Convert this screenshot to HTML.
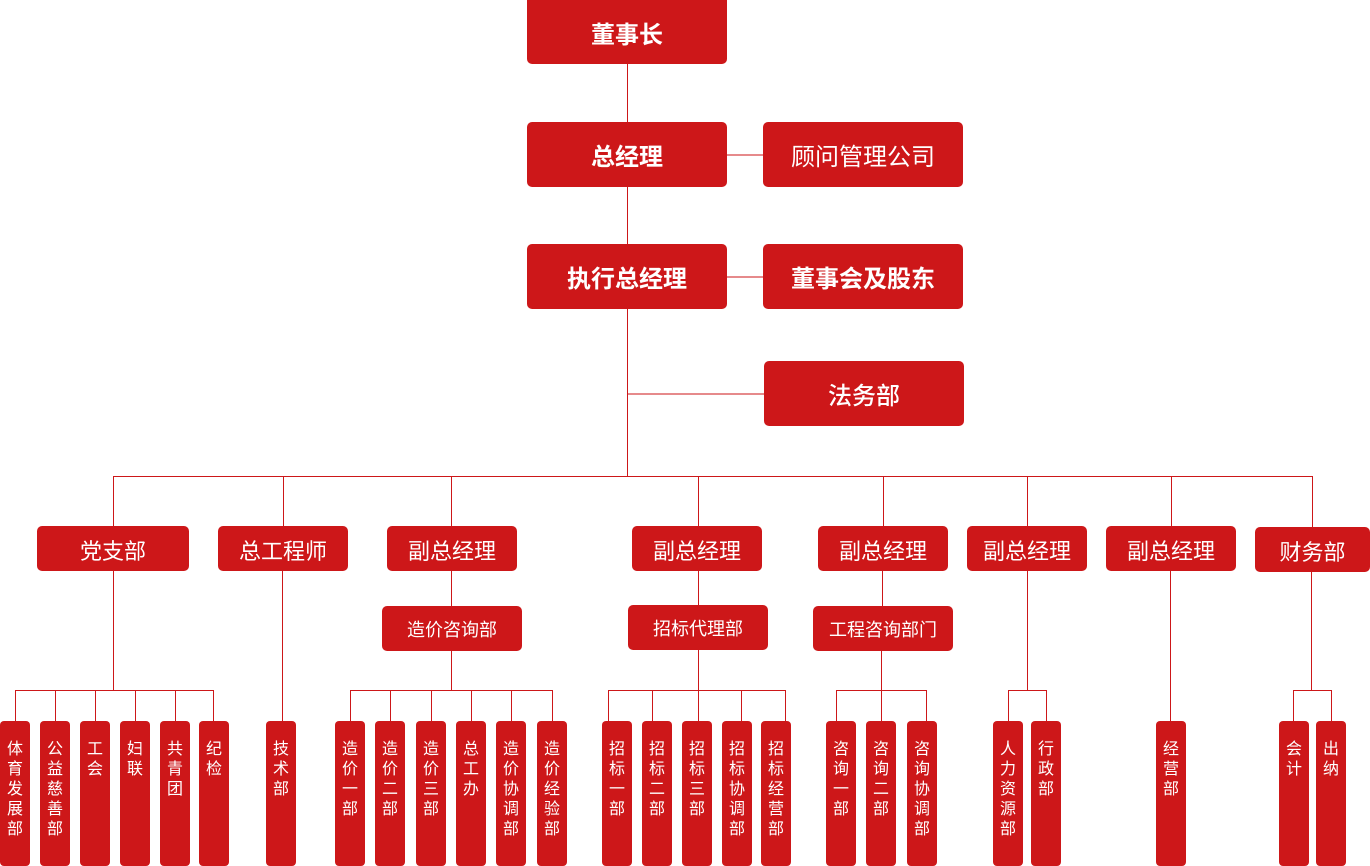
<!DOCTYPE html>
<html><head><meta charset="utf-8">
<style>
html,body{margin:0;padding:0;background:#fff;}
body{width:1370px;height:864px;position:relative;overflow:hidden;font-family:"Liberation Sans","Noto Sans CJK SC",sans-serif;}
.b{position:absolute;background:#cd1719;color:#fff;border-radius:5px;display:flex;align-items:center;justify-content:center;box-sizing:border-box;white-space:nowrap;}
.t{font-size:24px;font-weight:bold;}
.m{font-size:22px;padding-top:2px;}
.n{font-size:18px;padding-top:1px;}
.s{position:absolute;top:721px;width:30px;height:145px;background:#cd1719;border-radius:4px;color:#fff;font-size:16px;line-height:20px;text-align:center;padding-top:19px;box-sizing:border-box;}
.h{position:absolute;height:1px;background:#cd1719;}
.v{position:absolute;width:1px;background:#cd1719;}
.p{position:absolute;height:2px;background:#e68a8b;}
</style></head><body>

<!-- top boxes -->
<div class="b t" style="left:527px;top:-6px;width:200px;height:70px;padding-top:6px;">董事长</div>
<div class="b t" style="left:527px;top:122px;width:200px;height:65px;">总经理</div>
<div class="b t" style="left:763px;top:122px;width:200px;height:65px;font-weight:normal;">顾问管理公司</div>
<div class="b t" style="left:527px;top:244px;width:200px;height:65px;">执行总经理</div>
<div class="b t" style="left:763px;top:244px;width:200px;height:65px;">董事会及股东</div>
<div class="b t" style="left:764px;top:361px;width:200px;height:65px;font-weight:500;">法务部</div>

<!-- top connectors -->
<div class="v" style="left:627px;top:64px;height:58px;"></div>
<div class="v" style="left:627px;top:187px;height:57px;"></div>
<div class="v" style="left:627px;top:309px;height:167px;"></div>
<div class="p" style="left:727px;top:154px;width:36px;"></div>
<div class="p" style="left:727px;top:276px;width:36px;"></div>
<div class="p" style="left:628px;top:393px;width:136px;"></div>
<div class="h" style="left:113px;top:476px;width:1200px;"></div>

<!-- drops to level 2 -->
<div class="v" style="left:113px;top:476px;height:50px;"></div>
<div class="v" style="left:283px;top:476px;height:50px;"></div>
<div class="v" style="left:451px;top:476px;height:50px;"></div>
<div class="v" style="left:698px;top:476px;height:50px;"></div>
<div class="v" style="left:883px;top:476px;height:50px;"></div>
<div class="v" style="left:1027px;top:476px;height:50px;"></div>
<div class="v" style="left:1171px;top:476px;height:50px;"></div>
<div class="v" style="left:1312px;top:476px;height:51px;"></div>

<!-- level 2 boxes -->
<div class="b m" style="left:37px;top:526px;width:152px;height:45px;">党支部</div>
<div class="b m" style="left:218px;top:526px;width:130px;height:45px;">总工程师</div>
<div class="b m" style="left:387px;top:526px;width:130px;height:45px;">副总经理</div>
<div class="b m" style="left:632px;top:526px;width:130px;height:45px;">副总经理</div>
<div class="b m" style="left:818px;top:526px;width:130px;height:45px;">副总经理</div>
<div class="b m" style="left:967px;top:526px;width:120px;height:45px;">副总经理</div>
<div class="b m" style="left:1106px;top:526px;width:130px;height:45px;">副总经理</div>
<div class="b m" style="left:1255px;top:527px;width:115px;height:45px;">财务部</div>

<!-- level 3 boxes -->
<div class="b n" style="left:382px;top:606px;width:140px;height:45px;">造价咨询部</div>
<div class="b n" style="left:628px;top:605px;width:140px;height:45px;">招标代理部</div>
<div class="b n" style="left:813px;top:606px;width:140px;height:45px;">工程咨询部门</div>

<!-- 党支部 branch -->
<div class="v" style="left:113px;top:571px;height:119px;"></div>
<div class="h" style="left:15px;top:690px;width:199px;"></div>
<div class="v" style="left:15px;top:690px;height:31px;"></div>
<div class="v" style="left:55px;top:690px;height:31px;"></div>
<div class="v" style="left:95px;top:690px;height:31px;"></div>
<div class="v" style="left:135px;top:690px;height:31px;"></div>
<div class="v" style="left:175px;top:690px;height:31px;"></div>
<div class="v" style="left:213px;top:690px;height:31px;"></div>

<!-- 总工程师 -->
<div class="v" style="left:282px;top:571px;height:150px;"></div>

<!-- 副总1 -->
<div class="v" style="left:451px;top:571px;height:35px;"></div>
<div class="v" style="left:451px;top:651px;height:39px;"></div>
<div class="h" style="left:350px;top:690px;width:203px;"></div>
<div class="v" style="left:350px;top:690px;height:31px;"></div>
<div class="v" style="left:390px;top:690px;height:31px;"></div>
<div class="v" style="left:431px;top:690px;height:31px;"></div>
<div class="v" style="left:471px;top:690px;height:31px;"></div>
<div class="v" style="left:511px;top:690px;height:31px;"></div>
<div class="v" style="left:552px;top:690px;height:31px;"></div>

<!-- 副总2 -->
<div class="v" style="left:698px;top:571px;height:34px;"></div>
<div class="v" style="left:698px;top:650px;height:40px;"></div>
<div class="h" style="left:608px;top:690px;width:178px;"></div>
<div class="v" style="left:608px;top:690px;height:31px;"></div>
<div class="v" style="left:652px;top:690px;height:31px;"></div>
<div class="v" style="left:698px;top:690px;height:31px;"></div>
<div class="v" style="left:741px;top:690px;height:31px;"></div>
<div class="v" style="left:785px;top:690px;height:31px;"></div>

<!-- 副总3 -->
<div class="v" style="left:882px;top:571px;height:35px;"></div>
<div class="v" style="left:881px;top:651px;height:39px;"></div>
<div class="h" style="left:836px;top:690px;width:91px;"></div>
<div class="v" style="left:836px;top:690px;height:31px;"></div>
<div class="v" style="left:881px;top:690px;height:31px;"></div>
<div class="v" style="left:926px;top:690px;height:31px;"></div>

<!-- 副总4 -->
<div class="v" style="left:1027px;top:571px;height:119px;"></div>
<div class="h" style="left:1008px;top:690px;width:39px;"></div>
<div class="v" style="left:1008px;top:690px;height:31px;"></div>
<div class="v" style="left:1046px;top:690px;height:31px;"></div>

<!-- 副总5 -->
<div class="v" style="left:1170px;top:571px;height:150px;"></div>

<!-- 财务部 -->
<div class="v" style="left:1311px;top:572px;height:118px;"></div>
<div class="h" style="left:1293px;top:690px;width:39px;"></div>
<div class="v" style="left:1293px;top:690px;height:31px;"></div>
<div class="v" style="left:1331px;top:690px;height:31px;"></div>

<!-- small boxes -->
<div class="s" style="left:0px;">体<br>育<br>发<br>展<br>部</div>
<div class="s" style="left:40px;">公<br>益<br>慈<br>善<br>部</div>
<div class="s" style="left:80px;">工<br>会</div>
<div class="s" style="left:120px;">妇<br>联</div>
<div class="s" style="left:160px;">共<br>青<br>团</div>
<div class="s" style="left:199px;">纪<br>检</div>

<div class="s" style="left:266px;">技<br>术<br>部</div>

<div class="s" style="left:335px;">造<br>价<br>一<br>部</div>
<div class="s" style="left:375px;">造<br>价<br>二<br>部</div>
<div class="s" style="left:416px;">造<br>价<br>三<br>部</div>
<div class="s" style="left:456px;">总<br>工<br>办</div>
<div class="s" style="left:496px;">造<br>价<br>协<br>调<br>部</div>
<div class="s" style="left:537px;">造<br>价<br>经<br>验<br>部</div>

<div class="s" style="left:602px;">招<br>标<br>一<br>部</div>
<div class="s" style="left:642px;">招<br>标<br>二<br>部</div>
<div class="s" style="left:682px;">招<br>标<br>三<br>部</div>
<div class="s" style="left:722px;">招<br>标<br>协<br>调<br>部</div>
<div class="s" style="left:761px;">招<br>标<br>经<br>营<br>部</div>

<div class="s" style="left:826px;">咨<br>询<br>一<br>部</div>
<div class="s" style="left:866px;">咨<br>询<br>二<br>部</div>
<div class="s" style="left:907px;">咨<br>询<br>协<br>调<br>部</div>

<div class="s" style="left:993px;">人<br>力<br>资<br>源<br>部</div>
<div class="s" style="left:1031px;">行<br>政<br>部</div>

<div class="s" style="left:1156px;">经<br>营<br>部</div>

<div class="s" style="left:1279px;">会<br>计</div>
<div class="s" style="left:1316px;">出<br>纳</div>

</body></html>
